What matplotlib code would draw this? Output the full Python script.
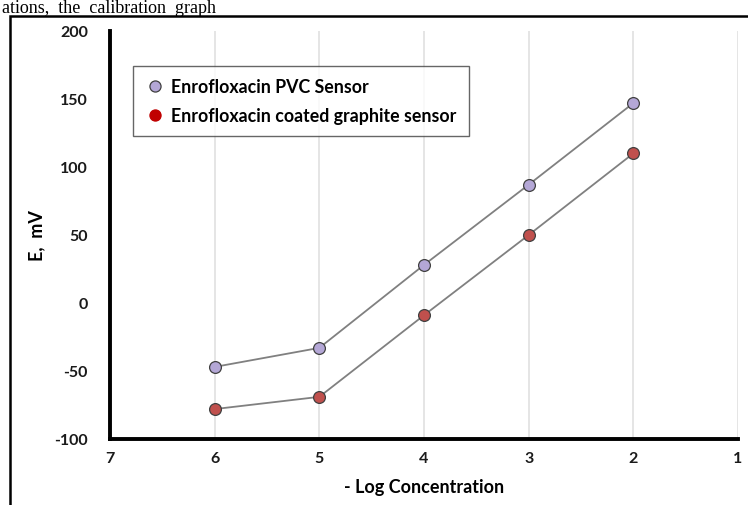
import matplotlib
matplotlib.use("Agg")
import matplotlib.pyplot as plt
from matplotlib.lines import Line2D
from matplotlib.patches import Rectangle

# calibration data
log_conc = [6, 5, 4, 3, 2]
pvc_mV = [-47, -33, 28, 87, 147]
coated_mV = [-78, -69, -9, 50, 110]

x_ticks = [7, 6, 5, 4, 3, 2, 1]
y_ticks = [-100, -50, 0, 50, 100, 150, 200]

plt.rcParams['font.family'] = ['Lato', 'DejaVu Sans']
plt.rcParams['axes.unicode_minus'] = False

fig = plt.figure(figsize=(7.48, 5.06), dpi=100)
ax = fig.add_axes([110/748, 1-440/506, 628/748, 408/506])

# outer frame of the pasted figure + caption line above it
fig.patches.append(Rectangle((10/748, -0.05), 1.2, 1.05-17/506, transform=fig.transFigure,
                             fill=False, edgecolor='black', linewidth=1.8))
fig.text(2/748, 1-13/506, "ations,  the  calibration  graph", family='Liberation Serif',
         fontsize=13, va='baseline', ha='left')

ax.plot(log_conc, pvc_mV, color='#808080', lw=1.3, marker='o', ms=8.5,
        mfc='#b4a7d6', mec='#404040', mew=0.9, zorder=3)
ax.plot(log_conc, coated_mV, color='#808080', lw=1.3, marker='o', ms=8.5,
        mfc='#c0504d', mec='#404040', mew=0.9, zorder=3)

ax.set_xlim(7, 1)
ax.set_ylim(-100, 200)
ax.set_xticks(x_ticks)
ax.set_yticks(y_ticks)
ax.grid(axis='x', color='#e0e0e0', lw=1.2)
ax.set_axisbelow(True)
for s in ['top', 'right']:
    ax.spines[s].set_visible(False)
ax.spines['left'].set_linewidth(2.8)
ax.spines['bottom'].set_linewidth(2.8)
ax.tick_params(length=0, labelsize=11.5, labelcolor='#1a1a1a')
ax.tick_params(axis='x', pad=9)
ax.tick_params(axis='y', pad=16)
for lab in ax.get_xticklabels() + ax.get_yticklabels():
    lab.set_fontweight('bold')

ax.set_xlabel('- Log Concentration', fontsize=13, fontweight='bold', labelpad=9)
ax.set_ylabel('E,  mV', fontsize=13, fontweight='bold')
ax.yaxis.set_label_coords((45-110)/628, 0.5)

handles = [
    Line2D([], [], ls='none', marker='o', ms=8, mfc='#b4a7d6', mec='#404040', mew=0.9,
           label='Enrofloxacin PVC Sensor'),
    Line2D([], [], ls='none', marker='o', ms=8, mfc='#c00000', mec='#c00000', mew=0.9,
           label='Enrofloxacin coated graphite sensor'),
]
leg = ax.legend(handles=handles, loc='upper left', bbox_to_anchor=(23/628, 1-35/408),
                frameon=True, fancybox=False, edgecolor='#404040',
                prop={'weight': 'bold', 'size': 12.8}, handletextpad=0.35,
                borderpad=0.7, labelspacing=0.65, handlelength=1.1, borderaxespad=0)
leg.get_frame().set_linewidth(1.0)

fig.savefig('out.png', dpi=100)
